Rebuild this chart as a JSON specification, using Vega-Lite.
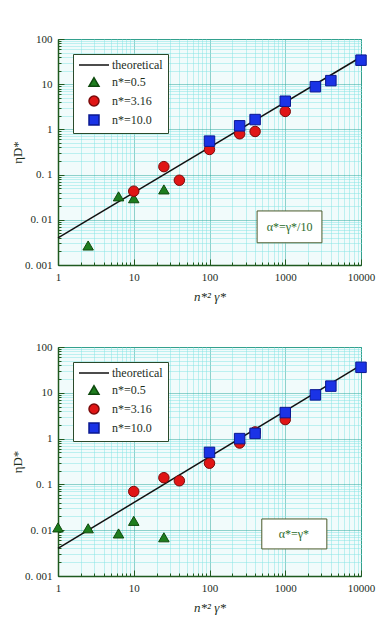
{
  "$schema": "https://vega.github.io/schema/vega-lite/v6.json",
  "padding": {"left": 11, "top": 32, "right": 15, "bottom": 5},
  "spacing": 36,
  "datasets": {
    "theory": [
      {"x": 1, "y": 0.004, "series": "theoretical"},
      {"x": 10000, "y": 40, "series": "theoretical"}
    ],
    "pts1": [
      {"x": 2.5, "y": 0.0027, "series": "n*=0.5"},
      {"x": 6.3, "y": 0.033, "series": "n*=0.5"},
      {"x": 10, "y": 0.03, "series": "n*=0.5"},
      {"x": 25, "y": 0.047, "series": "n*=0.5"},
      {"x": 10, "y": 0.043, "series": "n*=3.16"},
      {"x": 25, "y": 0.15, "series": "n*=3.16"},
      {"x": 40, "y": 0.075, "series": "n*=3.16"},
      {"x": 100, "y": 0.36, "series": "n*=3.16"},
      {"x": 250, "y": 0.8, "series": "n*=3.16"},
      {"x": 400, "y": 0.9, "series": "n*=3.16"},
      {"x": 1000, "y": 2.5, "series": "n*=3.16"},
      {"x": 100, "y": 0.55, "series": "n*=10.0"},
      {"x": 250, "y": 1.2, "series": "n*=10.0"},
      {"x": 400, "y": 1.65, "series": "n*=10.0"},
      {"x": 1000, "y": 4.2, "series": "n*=10.0"},
      {"x": 2500, "y": 8.8, "series": "n*=10.0"},
      {"x": 4000, "y": 12, "series": "n*=10.0"},
      {"x": 10000, "y": 34, "series": "n*=10.0"}
    ],
    "pts2": [
      {"x": 1, "y": 0.0115, "series": "n*=0.5"},
      {"x": 2.5, "y": 0.011, "series": "n*=0.5"},
      {"x": 6.3, "y": 0.0085, "series": "n*=0.5"},
      {"x": 10, "y": 0.016, "series": "n*=0.5"},
      {"x": 25, "y": 0.007, "series": "n*=0.5"},
      {"x": 10, "y": 0.07, "series": "n*=3.16"},
      {"x": 25, "y": 0.14, "series": "n*=3.16"},
      {"x": 40, "y": 0.12, "series": "n*=3.16"},
      {"x": 100, "y": 0.29, "series": "n*=3.16"},
      {"x": 250, "y": 0.8, "series": "n*=3.16"},
      {"x": 400, "y": 1.4, "series": "n*=3.16"},
      {"x": 1000, "y": 2.6, "series": "n*=3.16"},
      {"x": 100, "y": 0.5, "series": "n*=10.0"},
      {"x": 250, "y": 1.0, "series": "n*=10.0"},
      {"x": 400, "y": 1.3, "series": "n*=10.0"},
      {"x": 1000, "y": 3.7, "series": "n*=10.0"},
      {"x": 2500, "y": 9, "series": "n*=10.0"},
      {"x": 4000, "y": 14, "series": "n*=10.0"},
      {"x": 10000, "y": 36, "series": "n*=10.0"}
    ],
    "ann1": [{"x": 425, "x2": 3050, "y": 0.0031, "y2": 0.0157, "tx": 1140, "ty": 0.0069, "label": "α*=γ*/10"}],
    "ann2": [{"x": 490, "x2": 3540, "y": 0.0039, "y2": 0.0176, "tx": 1300, "ty": 0.0083, "label": "α*=γ*"}]
  },
  "config": {
    "font": "Liberation Serif",
    "view": {"stroke": "#3c9a80", "fill": "#f1fbfb"},
    "axis": {
      "labelFont": "Liberation Serif",
      "labelFontSize": 11,
      "labelColor": "#1c2e1c",
      "titleFont": "Liberation Serif",
      "titleFontSize": 13,
      "titleFontWeight": "normal",
      "titleColor": "#1c2e1c",
      "domainColor": "#1f5a1f",
      "domainWidth": 1.5,
      "tickColor": "#1f5a1f",
      "gridDash": [1, 1],
      "gridOpacity": 1
    },
    "legend": {
      "orient": "top-left",
      "offset": 15,
      "title": null,
      "labelFont": "Liberation Serif",
      "labelFontSize": 12,
      "labelColor": "#1c2e1c",
      "fillColor": "white",
      "strokeColor": "#2a4a2a",
      "padding": 5,
      "symbolSize": 100,
      "symbolOffset": 10,
      "labelOffset": 12,
      "rowPadding": 3,
      "symbolStrokeWidth": 1.5
    }
  },
  "resolve": {
    "scale": {"shape": "independent", "fill": "independent", "stroke": "independent"},
    "legend": {"shape": "independent", "fill": "independent", "stroke": "independent"}
  },
  "vconcat": [
    {
      "width": 303,
      "height": 226,
      "layer": [
        {
          "data": {"name": "ann1"},
          "mark": {"type": "rect", "fill": "white", "stroke": "#4a5a2a", "strokeWidth": 1},
          "encoding": {
            "x": {"field": "x", "type": "quantitative", "scale": {"type": "log", "domain": [1, 10000], "nice": false},
              "axis": {
                "title": "n*² γ*", "titleFontStyle": "italic", "titlePadding": 8,
                "values": [1,2,3,4,5,6,7,8,9,10,20,30,40,50,60,70,80,90,100,200,300,400,500,600,700,800,900,1000,2000,3000,4000,5000,6000,7000,8000,9000,10000],
                "format": "d",
                "labelExpr": "indexof([1,10,100,1000,10000], datum.value) >= 0 ? datum.label : ''",
                "grid": true,
                "gridColor": {"condition": {"test": "indexof([1,10,100,1000,10000], datum.value) >= 0", "value": "#2aa79a"}, "value": "#86e4e4"},
                "tickSize": {"condition": {"test": "indexof([1,10,100,1000,10000], datum.value) >= 0", "value": -6}, "value": -3},
                "labelPadding": 12,
                "labelFlush": false
              }},
            "x2": {"field": "x2"},
            "y": {"field": "y", "type": "quantitative", "scale": {"type": "log", "domain": [0.001, 100], "nice": false},
              "axis": {
                "title": "ηD*", "titlePadding": 0,
                "values": [0.001,0.002,0.003,0.004,0.005,0.006,0.007,0.008,0.009,0.01,0.02,0.03,0.04,0.05,0.06,0.07,0.08,0.09,0.1,0.2,0.3,0.4,0.5,0.6,0.7,0.8,0.9,1,2,3,4,5,6,7,8,9,10,20,30,40,50,60,70,80,90,100],
                "labelExpr": "datum.value == 0.001 ? '0. 001' : datum.value == 0.01 ? '0. 01' : datum.value == 0.1 ? '0. 1' : datum.value == 1 ? '1' : datum.value == 10 ? '10' : datum.value == 100 ? '100' : ''",
                "grid": true,
                "gridColor": {"condition": {"test": "indexof([0.001,0.01,0.1,1,10,100], datum.value) >= 0", "value": "#2aa79a"}, "value": "#86e4e4"},
                "tickSize": {"condition": {"test": "indexof([0.001,0.01,0.1,1,10,100], datum.value) >= 0", "value": -6}, "value": -3},
                "labelPadding": 12,
                "labelFlush": false
              }},
            "y2": {"field": "y2"}
          }
        },
        {
          "data": {"name": "ann1"},
          "mark": {"type": "text", "fontSize": 12, "color": "#2a6a2a", "font": "Liberation Serif"},
          "encoding": {
            "x": {"field": "tx", "type": "quantitative"},
            "y": {"field": "ty", "type": "quantitative"},
            "text": {"field": "label"}
          }
        },
        {
          "data": {"name": "theory"},
          "mark": {"type": "line", "strokeWidth": 1.5},
          "encoding": {
            "x": {"field": "x", "type": "quantitative"},
            "y": {"field": "y", "type": "quantitative"},
            "stroke": {"field": "series", "type": "nominal",
              "scale": {"domain": ["theoretical", "n*=0.5", "n*=3.16", "n*=10.0"], "range": ["#111111", "#0e4a0e", "#7a0a0a", "#0a1890"]}}
          }
        },
        {
          "data": {"name": "pts1"},
          "mark": {"type": "point", "filled": true, "opacity": 1, "strokeWidth": 1},
          "encoding": {
            "x": {"field": "x", "type": "quantitative"},
            "y": {"field": "y", "type": "quantitative"},
            "shape": {"field": "series", "type": "nominal",
              "scale": {"domain": ["theoretical", "n*=0.5", "n*=3.16", "n*=10.0"], "range": ["M-3,0H3", "triangle-up", "circle", "square"]}},
            "fill": {"field": "series", "type": "nominal",
              "scale": {"domain": ["theoretical", "n*=0.5", "n*=3.16", "n*=10.0"], "range": ["#111111", "#1e7d1e", "#e01515", "#1a33e6"]}},
            "stroke": {"field": "series", "type": "nominal"},
            "size": {"value": 110}
          }
        }
      ]
    },
    {
      "width": 303,
      "height": 229,
      "layer": [
        {
          "data": {"name": "ann2"},
          "mark": {"type": "rect", "fill": "white", "stroke": "#4a5a2a", "strokeWidth": 1},
          "encoding": {
            "x": {"field": "x", "type": "quantitative", "scale": {"type": "log", "domain": [1, 10000], "nice": false},
              "axis": {
                "title": "n*² γ*", "titleFontStyle": "italic", "titlePadding": 8,
                "values": [1,2,3,4,5,6,7,8,9,10,20,30,40,50,60,70,80,90,100,200,300,400,500,600,700,800,900,1000,2000,3000,4000,5000,6000,7000,8000,9000,10000],
                "format": "d",
                "labelExpr": "indexof([1,10,100,1000,10000], datum.value) >= 0 ? datum.label : ''",
                "grid": true,
                "gridColor": {"condition": {"test": "indexof([1,10,100,1000,10000], datum.value) >= 0", "value": "#2aa79a"}, "value": "#86e4e4"},
                "tickSize": {"condition": {"test": "indexof([1,10,100,1000,10000], datum.value) >= 0", "value": -6}, "value": -3},
                "labelPadding": 12,
                "labelFlush": false
              }},
            "x2": {"field": "x2"},
            "y": {"field": "y", "type": "quantitative", "scale": {"type": "log", "domain": [0.001, 100], "nice": false},
              "axis": {
                "title": "ηD*", "titlePadding": 0,
                "values": [0.001,0.002,0.003,0.004,0.005,0.006,0.007,0.008,0.009,0.01,0.02,0.03,0.04,0.05,0.06,0.07,0.08,0.09,0.1,0.2,0.3,0.4,0.5,0.6,0.7,0.8,0.9,1,2,3,4,5,6,7,8,9,10,20,30,40,50,60,70,80,90,100],
                "labelExpr": "datum.value == 0.001 ? '0. 001' : datum.value == 0.01 ? '0. 01' : datum.value == 0.1 ? '0. 1' : datum.value == 1 ? '1' : datum.value == 10 ? '10' : datum.value == 100 ? '100' : ''",
                "grid": true,
                "gridColor": {"condition": {"test": "indexof([0.001,0.01,0.1,1,10,100], datum.value) >= 0", "value": "#2aa79a"}, "value": "#86e4e4"},
                "tickSize": {"condition": {"test": "indexof([0.001,0.01,0.1,1,10,100], datum.value) >= 0", "value": -6}, "value": -3},
                "labelPadding": 12,
                "labelFlush": false
              }},
            "y2": {"field": "y2"}
          }
        },
        {
          "data": {"name": "ann2"},
          "mark": {"type": "text", "fontSize": 12, "color": "#2a6a2a", "font": "Liberation Serif"},
          "encoding": {
            "x": {"field": "tx", "type": "quantitative"},
            "y": {"field": "ty", "type": "quantitative"},
            "text": {"field": "label"}
          }
        },
        {
          "data": {"name": "theory"},
          "mark": {"type": "line", "strokeWidth": 1.5},
          "encoding": {
            "x": {"field": "x", "type": "quantitative"},
            "y": {"field": "y", "type": "quantitative"},
            "stroke": {"field": "series", "type": "nominal",
              "scale": {"domain": ["theoretical", "n*=0.5", "n*=3.16", "n*=10.0"], "range": ["#111111", "#0e4a0e", "#7a0a0a", "#0a1890"]}}
          }
        },
        {
          "data": {"name": "pts2"},
          "mark": {"type": "point", "filled": true, "opacity": 1, "strokeWidth": 1},
          "encoding": {
            "x": {"field": "x", "type": "quantitative"},
            "y": {"field": "y", "type": "quantitative"},
            "shape": {"field": "series", "type": "nominal",
              "scale": {"domain": ["theoretical", "n*=0.5", "n*=3.16", "n*=10.0"], "range": ["M-3,0H3", "triangle-up", "circle", "square"]}},
            "fill": {"field": "series", "type": "nominal",
              "scale": {"domain": ["theoretical", "n*=0.5", "n*=3.16", "n*=10.0"], "range": ["#111111", "#1e7d1e", "#e01515", "#1a33e6"]}},
            "stroke": {"field": "series", "type": "nominal"},
            "size": {"value": 110}
          }
        }
      ]
    }
  ]
}
